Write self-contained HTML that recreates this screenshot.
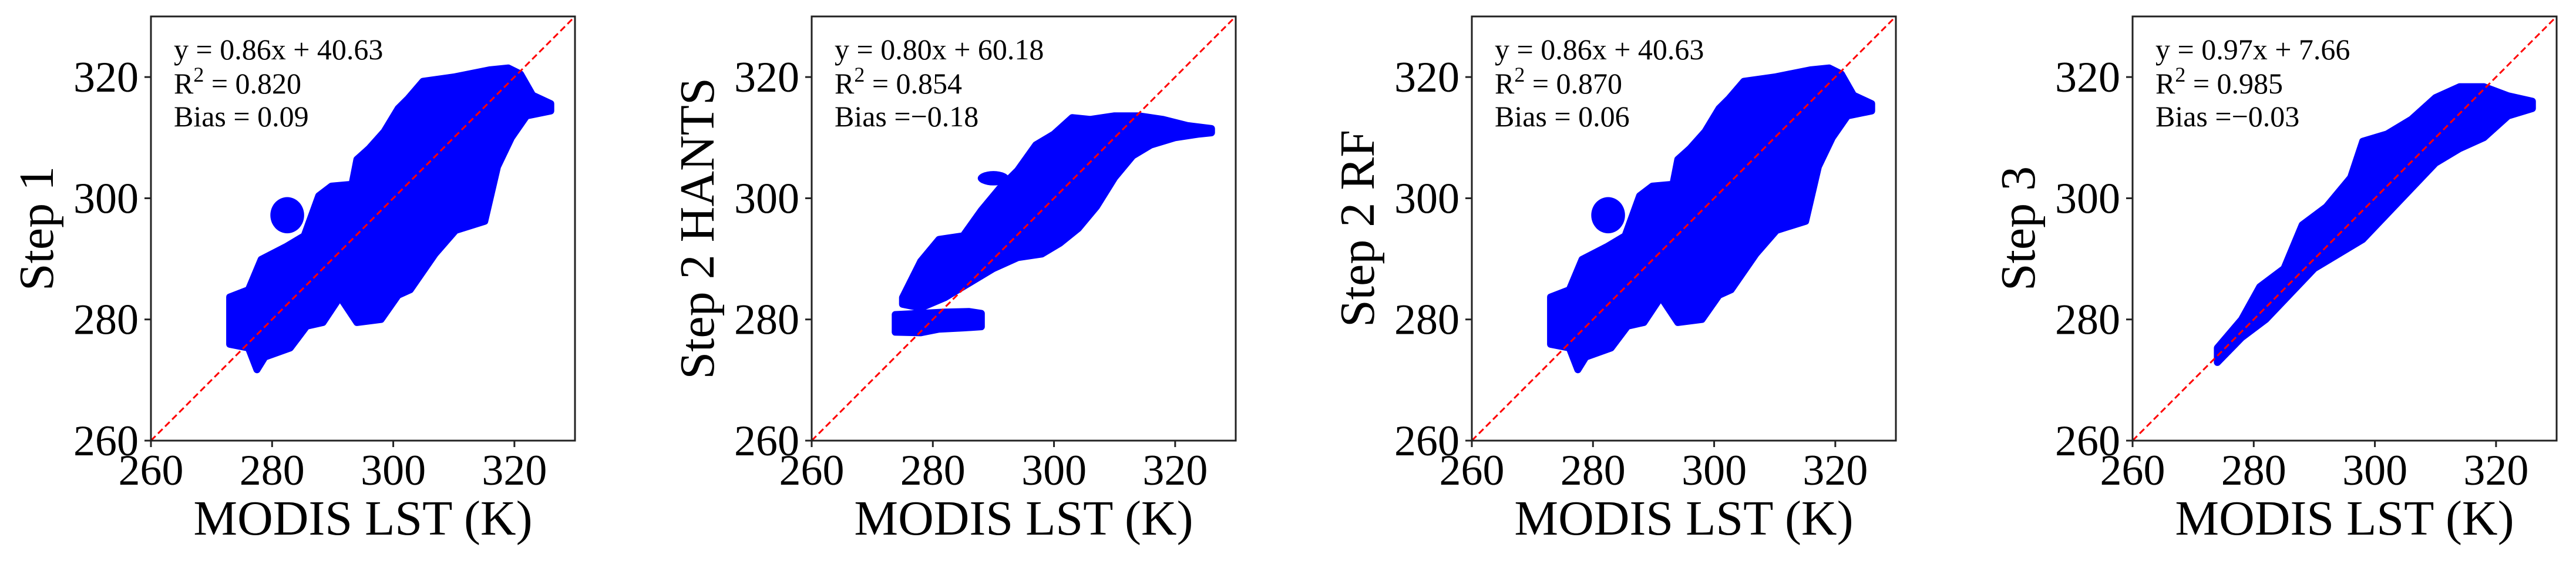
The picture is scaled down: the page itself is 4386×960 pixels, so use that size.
<!DOCTYPE html>
<html><head><meta charset="utf-8">
<style>
html,body{margin:0;padding:0;background:#fff;}
svg{display:block;}
text{font-family:"Liberation Serif","DejaVu Serif",serif;fill:#000;}
</style></head>
<body>
<svg id="fig" width="4386" height="960" viewBox="0 0 4386 960" xmlns="http://www.w3.org/2000/svg"></svg>
<script>
// ---- data ----
const panelTitles = ["Step 1", "Step 2 HANTS", "Step 2 RF", "Step 3"];
const eqTexts = ["y = 0.86x + 40.63", "y = 0.80x + 60.18", "y = 0.86x + 40.63", "y = 0.97x + 7.66"];
const r2Texts = ["0.820", "0.854", "0.870", "0.985"];
const biasTexts = ["Bias = 0.09", "Bias =\u22120.18", "Bias = 0.06", "Bias =\u22120.03"];
const tickValues = [260, 280, 300, 320];
const axisMin = 260, axisMax = 330;

// cloud envelopes: upper edge [x,y] then lower edge [x,y]
const step1Upper = [[273,283.7],[276.1,284.9],[278.2,289.9],[282.3,292],[285.3,293.8],[287.7,300.4],[289.8,302],[293.2,302.3],[294,306.4],[296,308.2],[298.5,311],[300.8,314.8],[302.5,316.5],[304.9,319.3],[310,320],[316,321.2],[319,321.5],[321,320.5],[323,317],[326,315.6]];
const step1Lower = [[326,314.4],[322,313.6],[319.5,310],[317.2,305.2],[315.1,296.2],[310.3,294.7],[306.9,290.8],[302.8,284.9],[300.8,284],[298,280],[294,279.5],[291.2,283.7],[288.4,279.5],[285.7,278.9],[283,275.3],[278.8,273.8],[277.5,271.7],[276.1,275.3],[273,275.9]];
const step1Blobs = [[282.5,297.2,2.4,2.6],[283,281,1.5,1.5],[296,283,1.2,1.5]];

const hantsUpper = [[275,283.6],[278,289.6],[281,293.2],[285,293.8],[288,298],[291,301.6],[294,304.6],[297,308.8],[300,310.6],[303,313.3],[306,313],[310,313.6],[314,313.6],[318,313],[322,312],[326,311.5]];
const hantsLower = [[326,310.8],[324,310.6],[320,310],[316,308.8],[313,307],[310,303.4],[307,298.6],[304,295],[301,292.6],[298,290.8],[294,290.2],[290,288.4],[286,286],[282,283.6],[278,281.9],[275,282.5]];
const hantsStripUpper = [[273.8,280.8],[278,281],[282,281.2],[286,281.3],[288,281]];
const hantsStripLower = [[288,278.8],[285,278.6],[281,278.4],[278,277.8],[273.8,277.9]];
const hantsBlobs = [[290,303.3,2.2,0.8]];

const step3Upper = [[274,275.3],[278,280],[281,285.4],[285,288.4],[288,295.6],[292,298.6],[296,303.4],[298,309.4],[302,310.6],[306,313],[310,316.6],[314,318.4],[318,318.4],[322,316.9],[326,316]];
const step3Lower = [[326,314.8],[322,313.6],[318,310],[314,308.2],[310,305.8],[306,301.6],[302,297.4],[298,293.2],[294,290.8],[290,288.4],[286,284.2],[282,280],[278,277],[274,272.9]];
const step3Blobs = [];

const panelClouds = [
  [[step1Upper, step1Lower]],
  [[hantsUpper, hantsLower],[hantsStripUpper, hantsStripLower]],
  [[step1Upper, step1Lower]],
  [[step3Upper, step3Lower]]
];
const panelBlobs = [step1Blobs, hantsBlobs, step1Blobs, step3Blobs];

// ---- layout ----
const NS = "http://www.w3.org/2000/svg";
const svg = document.getElementById("fig");
const panelLefts = [257, 1382, 2506, 3631];
const plotTop = 28, plotSize = 722;

function mk(tag, attrs, parent) {
  const e = document.createElementNS(NS, tag);
  for (const k in attrs) e.setAttribute(k, attrs[k]);
  (parent || svg).appendChild(e);
  return e;
}

panelTitles.forEach((title, i) => {
  const L = panelLefts[i];
  const k = plotSize / (axisMax - axisMin);
  const sx = v => L + (v - axisMin) * k;
  const sy = v => plotTop + plotSize - (v - axisMin) * k;
  const g = mk("g", {});
  
  

  const clip = mk("clipPath", {id: "clip" + i}, g);
  mk("rect", {x: L, y: plotTop, width: plotSize, height: plotSize}, clip);

  panelClouds[i].forEach(pair => {
    const pts = pair[0].concat(pair[1]).map(p => sx(p[0]).toFixed(1) + "," + sy(p[1]).toFixed(1)).join(" ");
    const poly = mk("polygon", {points: pts, fill: "#0000ff", stroke: "#0000ff", "stroke-width": 12, "stroke-linejoin": "round", "clip-path": "url(#clip" + i + ")"}, g);
    
    
  });
  panelBlobs[i].forEach(b => {
    const c = mk("ellipse", {cx: sx(b[0]), cy: sy(b[1]), rx: b[2] * k + 4, ry: b[3] * k + 4, fill: "#0000ff"}, g);
    
    
  });

  const ln = mk("line", {x1: sx(axisMin), y1: sy(axisMin), x2: sx(axisMax), y2: sy(axisMax), stroke: "#ff0000", "stroke-width": 3, "stroke-dasharray": "11,6"}, g);
  
  

  const fr = mk("rect", {x: L, y: plotTop, width: plotSize, height: plotSize, fill: "none", stroke: "#222", "stroke-width": 3}, g);
  
  

  tickValues.forEach(t => {
    mk("line", {x1: L - 11, x2: L, y1: sy(t), y2: sy(t), stroke: "#222", "stroke-width": 3}, g);
    const yt = mk("text", {x: L - 21, y: sy(t) + 25, "text-anchor": "end", "font-size": 74}, g);
    yt.textContent = t;
    
    
    mk("line", {x1: sx(t), x2: sx(t), y1: plotTop + plotSize, y2: plotTop + plotSize + 11, stroke: "#222", "stroke-width": 3}, g);
    const xt = mk("text", {x: sx(t), y: 825, "text-anchor": "middle", "font-size": 74}, g);
    xt.textContent = t;
    
    
  });

  const xl = mk("text", {x: L + plotSize / 2, y: 910, "text-anchor": "middle", "font-size": 84}, g);
  xl.textContent = "MODIS LST (K)";
  
  
  const yl = mk("text", {x: 0, y: 0, "text-anchor": "middle", "font-size": 84, transform: "translate(" + (L - 167) + "," + (plotTop + plotSize / 2) + ") rotate(-90)"}, g);
  yl.textContent = title;
  
  

  const a1 = mk("text", {x: L + 39, y: 101, "font-size": 50}, g);
  a1.textContent = eqTexts[i];
  
  
  const a2 = mk("text", {x: L + 39, y: 159, "font-size": 50}, g);
  
  
  const t1 = mk("tspan", {}, a2); t1.textContent = "R";
  const t2 = mk("tspan", {dy: -20, "font-size": 36}, a2); t2.textContent = "2";
  const t3 = mk("tspan", {dy: 20}, a2); t3.textContent = " =  " + r2Texts[i];
  const a3 = mk("text", {x: L + 39, y: 215, "font-size": 50}, g);
  a3.textContent = biasTexts[i];
  
  
});
</script>
</body></html>
